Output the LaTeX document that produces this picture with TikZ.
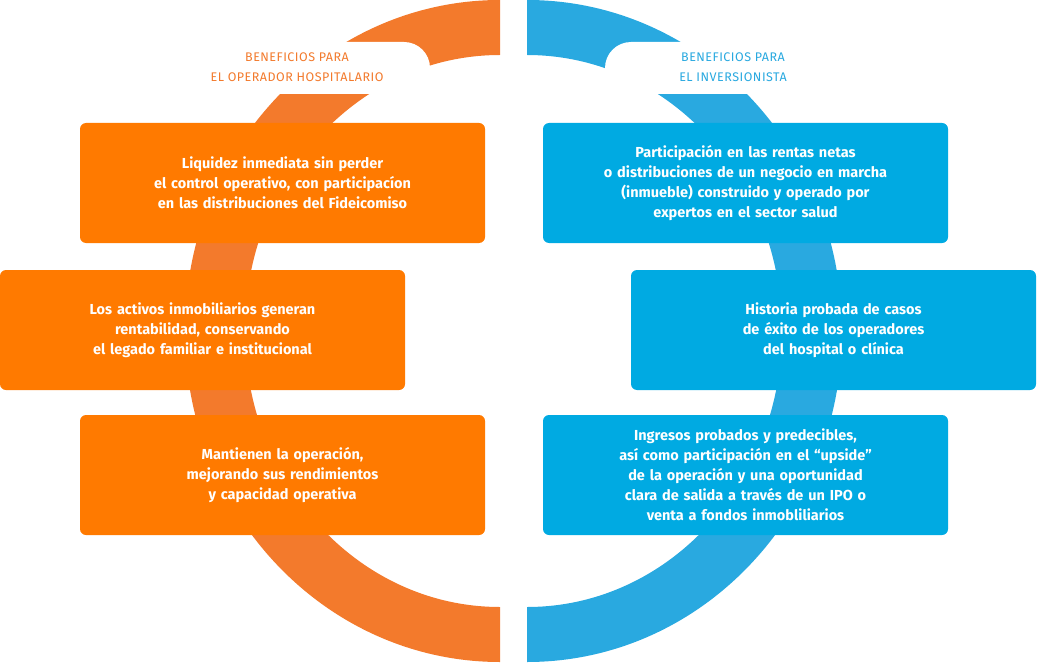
\documentclass[tikz,border=0pt]{standalone}
\usepackage{fontspec}
\setmainfont{Fira Sans}
\usetikzlibrary{positioning}
\definecolor{ringorange}{HTML}{F37A2C}
\definecolor{boxorange}{HTML}{FF7A00}
\definecolor{ringblue}{HTML}{29A9E0}
\definecolor{boxblue}{HTML}{00AAE2}
\tikzset{
  box/.style={rounded corners=6pt, minimum width=405pt, minimum height=120pt,
    text width=380pt, align=center, inner sep=0pt, text=white,
    font=\fontsize{14.5}{20}\selectfont\bfseries},
  obox/.style={box, fill=boxorange},
  bbox/.style={box, fill=boxblue},
  ttl/.style={align=center, inner sep=0pt, font=\fontsize{12.5}{20}\selectfont\addfontfeatures{LetterSpace=4}}
}
\begin{document}
\begin{tikzpicture}[x=1pt, y=-1pt]
    \useasboundingbox (0,0) rectangle (1038,663);
    % semicircular bands
    \begin{scope}
      \clip (0,0) rectangle (500,663);
      \fill[ringorange, even odd rule] (500,331) ellipse [x radius=315, y radius=331]
                                      (500,331) ellipse [x radius=255, y radius=276];
    \end{scope}
    \begin{scope}
      \clip (527,0) rectangle (1038,663);
      \fill[ringblue, even odd rule] (527,331) ellipse [x radius=315, y radius=331]
                                    (527,331) ellipse [x radius=255, y radius=276];
    \end{scope}
    % title cut-outs
    \fill[white, rounded corners=26pt] (170,42) rectangle (430,94);
    \fill[white, rounded corners=26pt] (605,42) rectangle (870,94);
    \node[ttl, text=ringorange] (tl) at (297,67) {BENEFICIOS PARA\\EL OPERADOR HOSPITALARIO};
    \node[ttl, text=ringblue] (tr) at (733,67) {BENEFICIOS PARA\\EL INVERSIONISTA};
    % boxes
    \node[obox] (l1) at (282.5,183) {Liquidez inmediata sin perder\\el control operativo, con participacíon\\en las distribuciones del Fideicomiso};
    \node[obox] (l2) at (202.5,330) {Los activos inmobiliarios generan\\rentabilidad, conservando\\el legado familiar e institucional};
    \node[obox] (l3) at (282.5,475) {Mantienen la operación,\\mejorando sus rendimientos\\y capacidad operativa};
    \node[bbox] (r1) at (745.5,183) {Participación en las rentas netas\\o distribuciones de un negocio en marcha\\(inmueble) construido y operado por\\expertos en el sector salud};
    \node[bbox] (r2) at (833.5,330) {Historia probada de casos\\de éxito de los operadores\\del hospital o clínica};
    \node[bbox] (r3) at (745.5,475) {Ingresos probados y predecibles,\\así como participación en el “upside”\\de la operación y una oportunidad\\clara de salida a través de un IPO o\\venta a fondos inmobliliarios};
\end{tikzpicture}
\end{document}
